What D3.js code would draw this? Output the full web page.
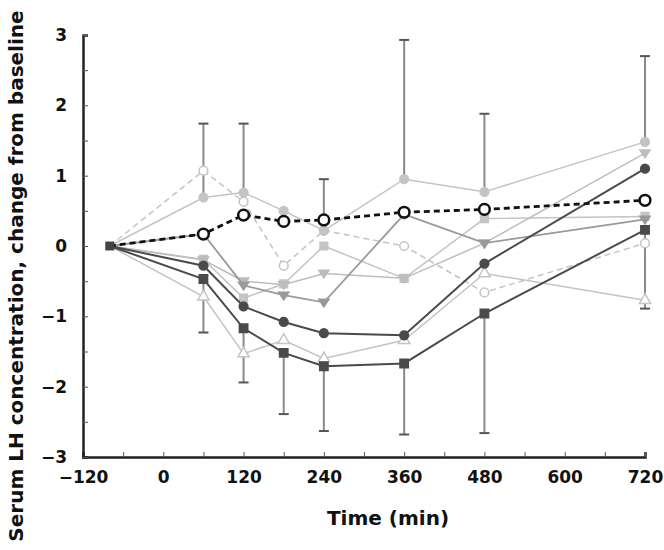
<!DOCTYPE html>
<html><head><meta charset="utf-8">
<script src="https://cdn.jsdelivr.net/npm/d3@7"></script>
<style>body{margin:0;background:#fff}svg{display:block}text{font-family:"DejaVu Sans",sans-serif;font-weight:bold}</style>
</head><body><svg id="c" width="664" height="550"></svg>
<script>
const times = [-80, 60, 120, 180, 240, 360, 480, 720];
const xTicks = [-120, 0, 120, 240, 360, 480, 600, 720];
const yTicks = [-3, -2, -1, 0, 1, 2, 3];
const sBlackDash = [0, 0.17, 0.44, 0.35, 0.37, 0.48, 0.52, 0.65];
const sLightCircle = [0, 0.69, 0.76, 0.5, 0.22, 0.95, 0.77, 1.48];
const sLightOpenDash = [0, 1.07, 0.63, -0.28, 0.22, 0.0, -0.66, 0.04];
const sLightSquare = [0, -0.19, -0.74, -0.54, 0.0, -0.46, 0.39, 0.42];
const sLightInvTri = [0, -0.2, -0.5, -0.55, -0.39, -0.46, 0.04, 1.32];
const sMidInvTri = [0, 0.17, -0.56, -0.7, -0.8, 0.45, 0.04, 0.38];
const sDarkCircle = [0, -0.28, -0.86, -1.08, -1.24, -1.27, -0.25, 1.1];
const sDarkSquare = [0, -0.47, -1.17, -1.52, -1.71, -1.67, -0.96, 0.23];
const sOpenTri = [0, -0.72, -1.53, -1.34, -1.6, -1.34, -0.39, -0.77];
const errUpper = [null, 1.74, 1.74, null, 0.95, 2.93, 1.88, 2.7];
const errLower = [null, -1.23, -1.94, -2.39, -2.63, -2.68, -2.66, -0.89];

const svg = d3.select("#c");
const x = d3.scaleLinear().domain([-120, 720]).range([83, 645]);
const y = d3.scaleLinear().domain([-3, 3]).range([457, 35]);

const series = [
  {v: sLightOpenDash, color: "#c4c4c4", dash: "6,4", sym: "circle", fill: "#fff", w: 1.5, size: 60},
  {v: sLightCircle, color: "#c4c4c4", dash: null, sym: "circle", fill: "#c4c4c4", w: 1.5, size: 60},
  {v: sLightSquare, color: "#c4c4c4", dash: null, sym: "square", fill: "#c4c4c4", w: 1.5, size: 60},
  {v: sLightInvTri, color: "#bdbdbd", dash: null, sym: "invtri", fill: "#bdbdbd", w: 1.5, size: 45},
  {v: sOpenTri, color: "#c4c4c4", dash: null, sym: "triangle", fill: "#fff", w: 1.5, size: 55},
  {v: sMidInvTri, color: "#9a9a9a", dash: null, sym: "invtri", fill: "#9a9a9a", w: 1.8, size: 45},
  {v: sDarkCircle, color: "#4a4a4a", dash: null, sym: "circle", fill: "#4a4a4a", w: 2, size: 60},
  {v: sDarkSquare, color: "#4a4a4a", dash: null, sym: "square", fill: "#4a4a4a", w: 2, size: 70},
  {v: sBlackDash, color: "#111", dash: "6,4", sym: "circle", fill: "#fff", w: 2.8, size: 90, sw: 2.5}
];

// error bars
const eb = svg.append("g").attr("stroke", "#8a8a8a").attr("stroke-width", 2);
times.forEach((t, i) => {
  if (errUpper[i] !== null) {
    eb.append("line").attr("x1", x(t)).attr("x2", x(t)).attr("y1", y(sLightCircle[i])).attr("y2", y(errUpper[i]));
    eb.append("line").attr("x1", x(t) - 5).attr("x2", x(t) + 5).attr("y1", y(errUpper[i])).attr("y2", y(errUpper[i])).attr("stroke", "#555");
  }
  if (errLower[i] !== null) {
    eb.append("line").attr("x1", x(t)).attr("x2", x(t)).attr("y1", y(sDarkSquare[i])).attr("y2", y(errLower[i]));
    eb.append("line").attr("x1", x(t) - 5).attr("x2", x(t) + 5).attr("y1", y(errLower[i])).attr("y2", y(errLower[i])).attr("stroke", "#555");
  }
});

const line = d3.line().x((d, i) => x(times[i])).y(d => y(d));
const invTri = {draw(ctx, size) { const s = Math.sqrt(size / 0.433) / 2; ctx.moveTo(-s, -s * 0.6); ctx.lineTo(s, -s * 0.6); ctx.lineTo(0, s * 0.9); ctx.closePath(); }};
const symMap = {circle: d3.symbolCircle, square: d3.symbolSquare, triangle: d3.symbolTriangle, invtri: invTri};

series.forEach(s => {
  const g = svg.append("g");
  g.append("path").attr("d", line(s.v)).attr("fill", "none").attr("stroke", s.color)
    .attr("stroke-width", s.w).attr("stroke-dasharray", s.dash);
  g.selectAll("path.m").data(s.v.slice(1)).join("path").attr("class", "m")
    .attr("transform", (d, i) => `translate(${x(times[i + 1])},${y(d)})`)
    .attr("d", d3.symbol(symMap[s.sym], s.size)())
    .attr("fill", s.fill).attr("stroke", s.color).attr("stroke-width", s.sw || 1.5);
});
// baseline marker
svg.append("path").attr("transform", `translate(${x(times[0])},${y(0)})`)
  .attr("d", d3.symbol(d3.symbolSquare, 80)()).attr("fill", "#444");

// axes
const ax = svg.append("g").attr("transform", `translate(0,${y(-3)})`)
  .call(d3.axisBottom(x).tickValues(d3.range(-120, 721, 60)).tickSize(-5).tickFormat(d => xTicks.includes(d) ? (d < 0 ? "\u2212" + (-d) : d) : ""));
ax.select(".domain").attr("stroke-width", 2.5).attr("stroke", "#222");
ax.selectAll(".tick line").attr("stroke", "#555");
ax.selectAll("text").attr("font-size", 17).attr("y", 14).attr("fill", "#111");
const ay = svg.append("g").attr("transform", `translate(${x(-120)},0)`)
  .call(d3.axisLeft(y).tickValues(d3.range(-3, 3.01, 0.5)).tickSize(-5).tickFormat(d => yTicks.includes(d) ? (d < 0 ? "\u2212" + (-d) : d) : ""));
ay.select(".domain").attr("stroke-width", 2.5).attr("stroke", "#222");
ay.selectAll(".tick line").attr("stroke", "#555");
ay.selectAll("text").attr("font-size", 17).attr("x", -16).attr("fill", "#111");

svg.append("text").attr("x", 388).attr("y", 525).attr("text-anchor", "middle").attr("font-size", 20).attr("fill", "#111").text("Time (min)");
svg.append("text").attr("transform", "translate(23,276) rotate(-90)").attr("text-anchor", "middle").attr("font-size", 20).attr("fill", "#111").text("Serum LH concentration, change from baseline");
</script></body></html>
